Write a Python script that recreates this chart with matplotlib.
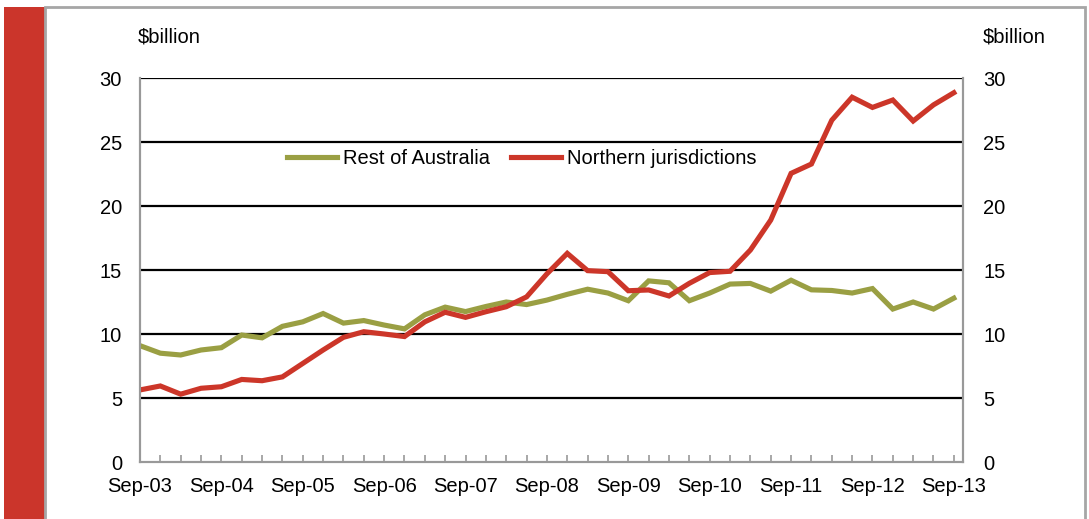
import numpy as np
import matplotlib
matplotlib.use("Agg")
import matplotlib.pyplot as plt
from matplotlib.patches import Rectangle

plt.rcParams["font.family"] = ["Liberation Sans", "DejaVu Sans"]

# quarterly, Sep-03 .. Sep-13
tick_labels = ["Sep-03", "Sep-04", "Sep-05", "Sep-06", "Sep-07", "Sep-08",
               "Sep-09", "Sep-10", "Sep-11", "Sep-12", "Sep-13"]

rest_of_australia = [
    9.09, 8.5, 8.36, 8.75, 8.93, 9.92, 9.7, 10.6, 10.95, 11.6,
    10.85, 11.05, 10.7, 10.4, 11.5, 12.1, 11.75, 12.15, 12.5, 12.3,
    12.65, 13.1, 13.5, 13.2, 12.6, 14.15, 14.0, 12.6, 13.2, 13.9,
    13.95, 13.35, 14.2, 13.45, 13.4, 13.2, 13.55, 11.95, 12.5, 11.95,
    12.8,
]
northern = [
    5.63, 5.94, 5.3, 5.76, 5.88, 6.45, 6.35, 6.65, 7.7, 8.75,
    9.74, 10.18, 10.0, 9.8, 10.95, 11.7, 11.3, 11.74, 12.13, 12.9,
    14.7, 16.3, 14.95, 14.87, 13.38, 13.44, 12.97, 13.96, 14.8, 14.9,
    16.56, 18.9, 22.55, 23.28, 26.7, 28.5, 27.7, 28.28, 26.64, 27.9,
    28.85,
]

green = "#9a9f43"
red = "#cc3629"
fs = 14.5

x = np.arange(len(northern))

fig = plt.figure(figsize=(10.89, 5.19), dpi=100)
W, H = 1089, 519

# page decorations: red side bar and grey frame
fig.add_artist(Rectangle((4 / W, 0), 41 / W, 1 - 7 / H, transform=fig.transFigure,
                         facecolor="#cb352b", edgecolor="none"))
fig.add_artist(Rectangle((45 / W, -0.01), (1085 - 45) / W, 1.01 - 7 / H,
                         transform=fig.transFigure, facecolor="none",
                         edgecolor="#a6a6a6", linewidth=2))

ax = fig.add_axes([140 / W, 1 - 462 / H, (963 - 140) / W, (462 - 78) / H])
ax.plot(x, rest_of_australia, color=green, linewidth=3.7, label="Rest of Australia",
        solid_joinstyle="miter", zorder=3)
ax.plot(x, northern, color=red, linewidth=3.7, label="Northern jurisdictions",
        solid_joinstyle="miter", zorder=4)

ax.set_xlim(0, 40.45)
ax.set_ylim(0, 30)
ax.set_yticks(range(0, 31, 5))
for v in range(5, 31, 5):
    ax.axhline(v, color="black", linewidth=1.6, zorder=1)

ax.set_xticks(x, minor=True)
ax.set_xticks(x[::4])
ax.set_xticklabels(tick_labels, fontsize=fs)
ax.tick_params(axis="x", which="both", direction="in", length=5, color="#999999",
               width=1.2, pad=11)
ax.tick_params(axis="y", length=0, labelsize=fs, pad=13)

ax2 = ax.twinx()
ax2.set_ylim(0, 30)
ax2.set_yticks(range(0, 31, 5))
ax2.tick_params(axis="y", length=0, labelsize=fs, pad=14.5)

for a in (ax, ax2):
    for s in a.spines.values():
        s.set_color("#999999")
        s.set_linewidth(1.5)
ax.spines["top"].set_visible(False)
ax2.spines["top"].set_visible(False)

fig.text(138 / W, 1 - 37 / H, "$billion", fontsize=fs, va="center", ha="left")
fig.text(983 / W, 1 - 37 / H, "$billion", fontsize=fs, va="center", ha="left")

ax.legend(loc="center left", bbox_to_anchor=(147 / 823, (462 - 159) / 384), ncol=2,
          frameon=False, fontsize=fs, handlelength=2.5, handletextpad=0.3,
          columnspacing=1.0, borderaxespad=0, borderpad=0)

fig.savefig("out.png", dpi=100)
